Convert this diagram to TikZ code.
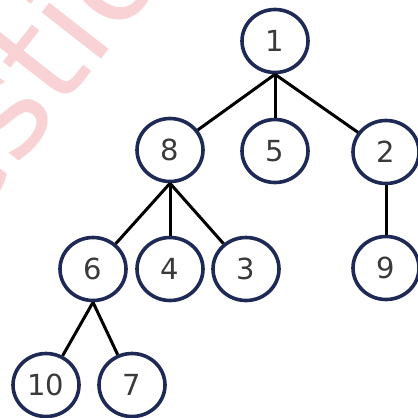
\documentclass[tikz,border=0pt]{standalone}
\usepackage{fontspec}
\setmainfont{DejaVu Sans}
\usetikzlibrary{shapes.geometric}
\definecolor{ring}{HTML}{1E2A55}
\definecolor{digit}{HTML}{3A3A3A}
\definecolor{wm}{HTML}{F9D2D6}
\tikzset{
  vert/.style={ellipse, draw=ring, line width=3.6pt, fill=white, minimum width=66pt, minimum height=63pt, inner sep=0pt, text=digit, font=\fontsize{29}{29}\selectfont},
  edge/.style={line width=3pt, black}
}
\begin{document}
\begin{tikzpicture}[x=1pt,y=-1pt]
\useasboundingbox (0,0) rectangle (418,418);
\fill[white] (0,0) rectangle (418,418);
\begin{scope}
\clip (0,0) rectangle (418,418);
\node[text=wm, rotate=52, font=\fontsize{138}{138}\selectfont, anchor=base west] (wmark) at (-38,238) {estio};
\end{scope}
\node[vert] (n1) at (275,41) {1};
\node[vert] (n8) at (170,150) {8};
\node[vert] (n5) at (275,151) {5};
\node[vert] (n2) at (386,152) {2};
\node[vert] (n6) at (93,269) {6};
\node[vert] (n4) at (170,269) {4};
\node[vert] (n3) at (246,269) {3};
\node[vert] (n9) at (386,268) {9};
\node[vert] (n10) at (46,385) {10};
\node[vert] (n7) at (132,385) {7};
\draw[edge] (n1.south) -- (n8);
\draw[edge] (n1.south) -- (n5);
\draw[edge] (n1.south) -- (n2);
\draw[edge] (n8.south) -- (n6);
\draw[edge] (n8.south) -- (n4);
\draw[edge] (n8.south) -- (n3);
\draw[edge] (n6.south) -- (n10);
\draw[edge] (n6.south) -- (n7);
\draw[edge] (n2.south) -- (n9);
\end{tikzpicture}
\end{document}
